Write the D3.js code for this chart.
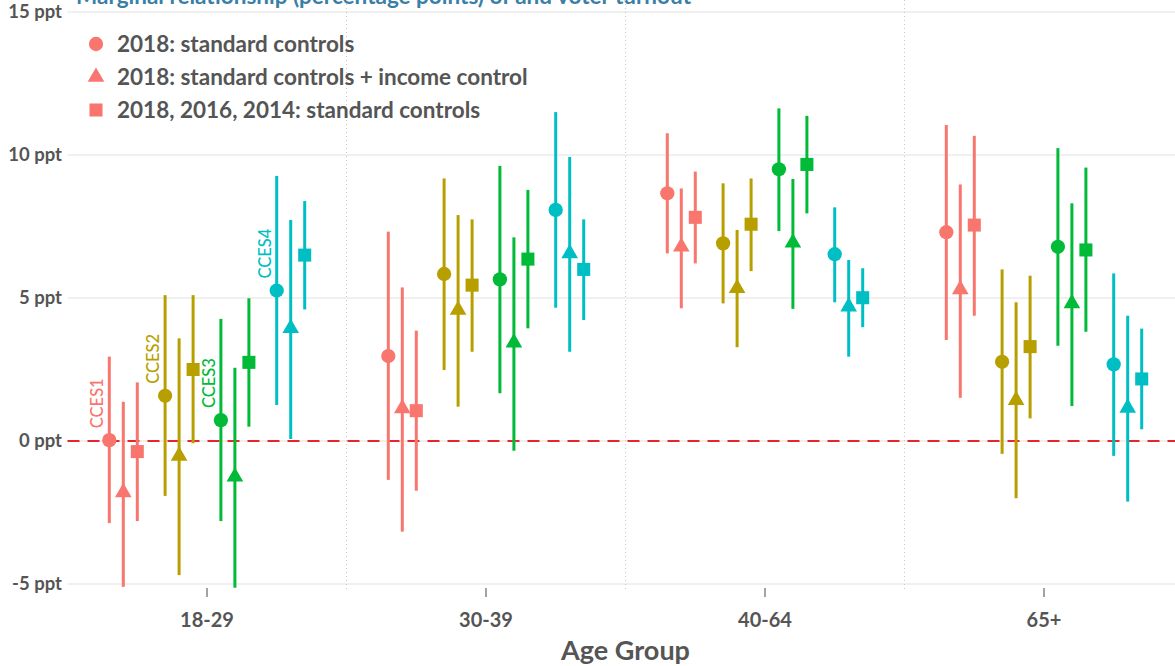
<!DOCTYPE html>
<html>
<head>
<meta charset="utf-8">
<script src="https://cdn.jsdelivr.net/npm/d3@7"></script>
<style>
  body { margin: 0; background: #fff; }
  svg { font-family: Lato, "Open Sans", sans-serif; }
</style>
</head>
<body>
<svg width="1175" height="666"></svg>
<script>
const ageGroups = ["18-29", "30-39", "40-64", "65+"]
const surveys = ["CCES1", "CCES2", "CCES3", "CCES4"]
const models = [
    "2018: standard controls",
    "2018: standard controls + income control",
    "2018, 2016, 2014: standard controls"
]
const surveyColors = ["#F8766D", "#B79F00", "#00BA38", "#00BFC4"]
const yTicks = [-5, 0, 5, 10, 15]

// one row per age group, values ordered survey by survey, model by model
const pointEstimates = [
    [0.03, -1.8, -0.37,  1.58, -0.52, 2.5,   0.73, -1.25, 2.75,  5.26, 3.94, 6.5],
    [2.97, 1.14, 1.06,   5.84, 4.58, 5.45,   5.65, 3.44, 6.36,   8.08, 6.56, 6.0],
    [8.66, 6.79, 7.82,   6.91, 5.34, 7.58,   9.5, 6.93, 9.67,    6.53, 4.7, 5.01],
    [7.3, 5.3, 7.55,     2.77, 1.43, 3.3,    6.79, 4.81, 6.68,   2.68, 1.16, 2.17]
]
const lowerBounds = [
    [-2.87, -5.1, -2.8,  -1.92, -4.69, -0.08, -2.8, -5.13, 0.5,  1.26, 0.07, 4.6],
    [-1.36, -3.17, -1.74, 2.48, 1.2, 3.12,    1.67, -0.34, 3.94, 4.66, 3.12, 4.23],
    [6.56, 4.64, 6.21,   4.81, 3.28, 5.94,    7.34, 4.62, 7.96,  4.85, 2.95, 3.98],
    [3.53, 1.51, 4.38,   -0.45, -2.0, 0.79,   3.33, 1.22, 3.82,  -0.52, -2.12, 0.41]
]
const upperBounds = [
    [2.95, 1.37, 2.05,   5.1, 3.59, 5.1,      4.27, 2.56, 4.99,  9.27, 7.73, 8.39],
    [7.32, 5.37, 3.86,   9.18, 7.9, 7.75,     9.62, 7.12, 8.78,  11.5, 9.93, 7.75],
    [10.76, 8.83, 9.42,  9.01, 7.38, 9.18,    11.63, 9.16, 11.37, 8.17, 6.33, 6.04],
    [11.05, 8.97, 10.67, 6.0, 4.85, 5.78,     10.24, 8.31, 9.56, 5.86, 4.38, 3.93]
]

const width = 1175
const height = 666
const panelLeft = 67.5

const svg = d3.select('svg')

const x = d3.scaleBand()
    .domain(ageGroups)
    .range([panelLeft, panelLeft + 279 * 4])

const xSurvey = d3.scaleBand()
    .domain(surveys)
    .range([-x.bandwidth() * 0.4, x.bandwidth() * 0.4])

const xModel = d3.scalePoint()
    .domain(models)
    .range([-14, 14])

const y = d3.scaleLinear()
    .domain([-5, 15])
    .range([584, 12])

const color = d3.scaleOrdinal().domain(surveys).range(surveyColors)

const shape = d3.scaleOrdinal()
    .domain(models)
    .range([d3.symbolCircle, d3.symbolTriangle, d3.symbolSquare])
const shapeSize = d3.scaleOrdinal()
    .domain(models)
    .range([160, 120, 170])

// flatten into rows
const rows = []
ageGroups.forEach((age, a) => {
    surveys.forEach((s, si) => {
        models.forEach((m, mi) => {
            const k = si * models.length + mi
            rows.push({
                age, survey: s, model: m,
                est: pointEstimates[a][k],
                lo: lowerBounds[a][k],
                hi: upperBounds[a][k]
            })
        })
    })
})
const px = d => x(d.age) + x.bandwidth() / 2 + xSurvey(d.survey) + xSurvey.bandwidth() / 2 + xModel(d.model)

// title, mostly cut off at the top edge
svg.append('text')
    .attr('x', 76)
    .attr('y', 4)
    .attr('fill', '#3b7ea6')
    .attr('font-weight', 700)
    .attr('font-size', 22.5)
    .text('Marginal relationship (percentage points) of  and voter turnout')

// grid
svg.append('g')
    .selectAll('line')
    .data(yTicks).enter()
    .append('line')
    .attr('x1', panelLeft)
    .attr('x2', width)
    .attr('y1', d => y(d))
    .attr('y2', d => y(d))
    .attr('stroke', '#ebebeb')
    .attr('stroke-width', 1.5)

svg.append('g')
    .selectAll('line')
    .data(ageGroups.slice(1)).enter()
    .append('line')
    .attr('x1', d => x(d))
    .attr('x2', d => x(d))
    .attr('y1', 0)
    .attr('y2', 590)
    .attr('stroke', '#c8c8c8')
    .attr('stroke-dasharray', '1,3')

// y labels
svg.append('g')
    .selectAll('text')
    .data(yTicks).enter()
    .append('text')
    .attr('x', 62)
    .attr('y', d => y(d) + 6)
    .attr('text-anchor', 'end')
    .attr('fill', '#555')
    .attr('font-size', 18.5)
    .attr('font-weight', 700)
    .text(d => `${d} ppt`)

// x ticks + labels
const xt = svg.append('g')
    .selectAll('g')
    .data(ageGroups).enter()
    .append('g')
    .attr('transform', d => `translate(${x(d) + x.bandwidth() / 2},0)`)
xt.append('line')
    .attr('y1', 588)
    .attr('y2', 597)
    .attr('stroke', '#666')
    .attr('stroke-width', 1.2)
xt.append('text')
    .attr('y', 627)
    .attr('text-anchor', 'middle')
    .attr('fill', '#555')
    .attr('font-size', 20)
    .attr('font-weight', 700)
    .text(d => d)

svg.append('text')
    .attr('x', panelLeft + 279 * 2)
    .attr('y', 660)
    .attr('text-anchor', 'middle')
    .attr('fill', '#555')
    .attr('font-size', 27)
    .attr('font-weight', 700)
    .text('Age Group')

// zero line
svg.append('line')
    .attr('x1', panelLeft)
    .attr('x2', width)
    .attr('y1', y(0))
    .attr('y2', y(0))
    .attr('stroke', '#e8262a')
    .attr('stroke-width', 1.8)
    .attr('stroke-dasharray', '12,8')

// error bars
svg.append('g')
    .selectAll('line')
    .data(rows).enter()
    .append('line')
    .attr('x1', px)
    .attr('x2', px)
    .attr('y1', d => y(d.lo))
    .attr('y2', d => y(d.hi))
    .attr('stroke', d => color(d.survey))
    .attr('stroke-width', 3)

// points
svg.append('g')
    .selectAll('path')
    .data(rows).enter()
    .append('path')
    .attr('transform', d => `translate(${px(d)},${y(d.est)})`)
    .attr('d', d => d3.symbol(shape(d.model), shapeSize(d.model))())
    .attr('fill', d => color(d.survey))

// survey labels above circles in the first age group
const firstCircles = rows.filter(d => d.age === ageGroups[0] && d.model === models[0])
svg.append('g')
    .selectAll('text')
    .data(firstCircles).enter()
    .append('text')
    .attr('transform', d => `translate(${px(d) - 6},${y(d.est) - 12}) rotate(-90)`)
    .attr('fill', d => color(d.survey))
    .attr('font-size', 16.5)
    .attr('font-weight', 500)
    .text(d => d.survey)

// legend
const leg = svg.append('g')
    .selectAll('g')
    .data(models).enter()
    .append('g')
    .attr('transform', (d, i) => `translate(96,${44 + i * 33})`)
leg.append('path')
    .attr('d', d => d3.symbol(shape(d), shapeSize(d))())
    .attr('fill', surveyColors[0])
leg.append('text')
    .attr('x', 21)
    .attr('y', 8)
    .attr('fill', '#555')
    .attr('font-size', 22.5)
    .attr('font-weight', 700)
    .text(d => d)
</script>
</body>
</html>
